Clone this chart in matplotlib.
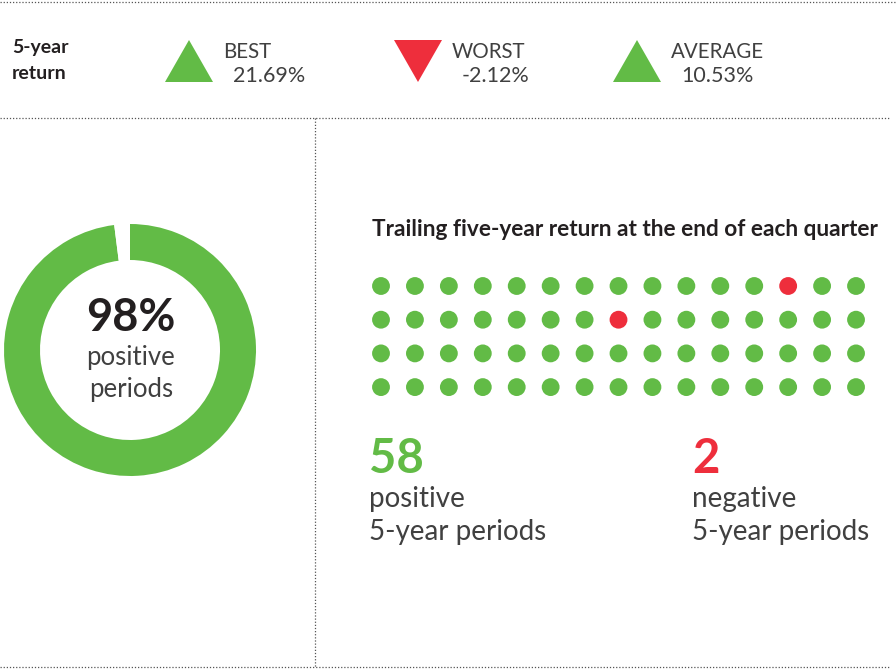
import matplotlib
matplotlib.use("Agg")
import matplotlib.pyplot as plt
from matplotlib.patches import Polygon
import numpy as np

# ---- data ----
stat_labels = ["BEST", "WORST", "AVERAGE"]
stat_values = [21.69, -2.12, 10.53]
positive_periods = 58
negative_periods = 2
share_positive = 98
# 1 = positive trailing 5-year return, 0 = negative (row-major, 4 rows x 15 cols)
period_rows = [
    [1, 1, 1, 1, 1, 1, 1, 1, 1, 1, 1, 1, 0, 1, 1],
    [1, 1, 1, 1, 1, 1, 1, 0, 1, 1, 1, 1, 1, 1, 1],
    [1, 1, 1, 1, 1, 1, 1, 1, 1, 1, 1, 1, 1, 1, 1],
    [1, 1, 1, 1, 1, 1, 1, 1, 1, 1, 1, 1, 1, 1, 1],
]

GREEN = "#62bb46"
RED = "#ee2e3c"
DARK = "#231f20"
TXT = "#404040"
LINE = "#555555"

W, H = 896, 670
plt.rcParams['font.family'] = ['Lato', 'DejaVu Sans']
fig = plt.figure(figsize=(W / 100, H / 100), dpi=100)

# overlay axes in pixel coordinates
ax = fig.add_axes([0, 0, 1, 1])
ax.set_xlim(0, W)
ax.set_ylim(H, 0)
ax.axis("off")

lk = dict(color=LINE, linestyle=(0, (1, 1.5)), linewidth=0.9)
ax.plot([0, W], [2, 2], **lk)
ax.plot([0, 890], [118, 118], **lk)
ax.plot([0, 890], [667, 667], **lk)
ax.plot([315, 315], [118, 667], **lk)

# header
ax.text(12, 53, "5-year", fontsize=14, fontweight="bold", color=DARK,
        va="baseline", ha="left")
ax.text(12, 79, "return", fontsize=14, fontweight="bold", color=DARK,
        va="baseline", ha="left")

tri_x = [165, 394, 613]
for i, (lab, val) in enumerate(zip(stat_labels, stat_values)):
    x0 = tri_x[i]
    if val >= 0:
        pts = [(x0, 82), (x0 + 48, 82), (x0 + 24, 40)]
        col = GREEN
    else:
        pts = [(x0, 40), (x0 + 48, 40), (x0 + 24, 82)]
        col = RED
    ax.add_patch(Polygon(pts, closed=True, color=col, lw=0))
    ax.text(x0 + 58, 58, lab, fontsize=14.8, fontweight="normal", color=TXT,
            ha="left", va="baseline")
    ax.text(x0 + 68, 82, f"{val:.2f}%", fontsize=15.5, fontweight="normal", color=TXT,
            ha="left", va="baseline")

# donut
cx, cy, r = 130, 350, 126
dax = fig.add_axes([(cx - r) / W, (H - cy - r) / H, 2 * r / W, 2 * r / H])
dax.pie([share_positive, 100 - share_positive], colors=[GREEN, "white"],
        startangle=90, counterclock=False, radius=1,
        wedgeprops=dict(width=36 / 126, linewidth=0))
dax.set_xlim(-1, 1)
dax.set_ylim(-1, 1)
dax.axis("off")

ax.text(131, 331, f"{share_positive}%", fontsize=32.5, fontweight="bold", color=DARK,
        ha="center", va="baseline")
ax.text(131, 357, "positive", fontsize=18.5, fontweight="normal", color=TXT,
        ha="center", va="center")
ax.text(131, 389, "periods", fontsize=18.5, fontweight="normal", color=TXT,
        ha="center", va="center")

# right panel title
ax.text(372, 229, "Trailing five-year return at the end of each quarter",
        fontsize=16.3, fontweight="bold", color=DARK, ha="left", va="center")

# dot grid
ncol = len(period_rows[0])
nrow = len(period_rows)
sx, sy = 33.93, 33.7
x_first, y_first = 381, 286
gax = fig.add_axes([(x_first - sx / 2) / W, (H - (y_first - sy / 2) - nrow * sy) / H,
                    ncol * sx / W, nrow * sy / H])
gax.set_xlim(-0.5, ncol - 0.5)
gax.set_ylim(nrow - 0.5, -0.5)
gax.axis("off")
flags = np.array(period_rows)
rr, cc = np.indices(flags.shape)
cols = np.where(flags.ravel() == 1, GREEN, RED)
gax.scatter(cc.ravel(), rr.ravel(), s=165, c=cols, linewidths=0)

# counts
ax.text(369, 473, f"{positive_periods}", fontsize=34, fontweight="bold", color=GREEN,
        ha="left", va="baseline")
ax.text(369, 507, "positive", fontsize=20, fontweight="normal", color=TXT,
        ha="left", va="baseline")
ax.text(369, 540, "5-year periods", fontsize=20, fontweight="normal", color=TXT,
        ha="left", va="baseline")

ax.text(692, 473, f"{negative_periods}", fontsize=34, fontweight="bold", color=RED,
        ha="left", va="baseline")
ax.text(692, 507, "negative", fontsize=20, fontweight="normal", color=TXT,
        ha="left", va="baseline")
ax.text(692, 540, "5-year periods", fontsize=20, fontweight="normal", color=TXT,
        ha="left", va="baseline")

fig.savefig("out.png", dpi=100)
